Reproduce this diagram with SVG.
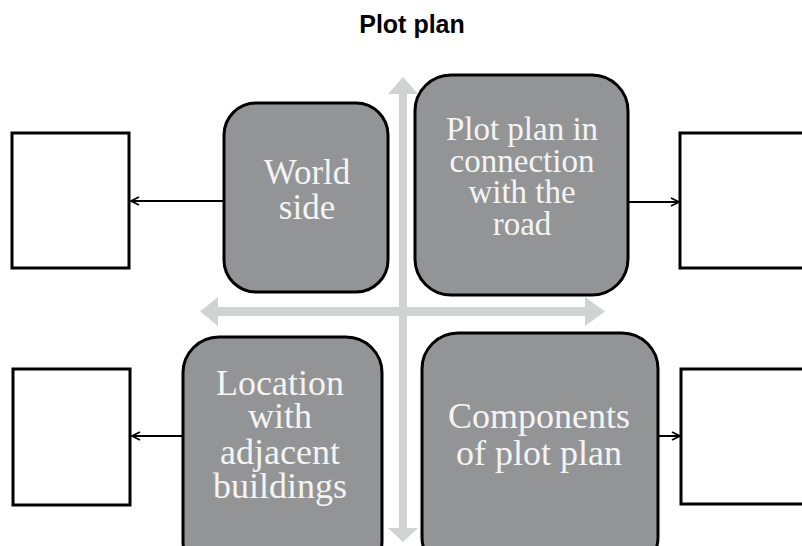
<svg xmlns="http://www.w3.org/2000/svg" width="802" height="546" viewBox="0 0 802 546">
<defs>
<style>
.title{font-family:"Liberation Sans",Arial,sans-serif;font-weight:bold;font-size:25px;fill:#000;text-anchor:middle}
.node{fill:#939496;stroke:#000;stroke-width:3}
.box{fill:#fff;stroke:#000;stroke-width:3}
.lbl{font-family:"Liberation Serif","Times New Roman",serif;fill:#f4f4f4;text-anchor:middle}
.axis{fill:#d1d2d4}
.conn{stroke:#000;stroke-width:2;fill:none}
</style>
<marker id="ah" viewBox="0 0 10 10" refX="9" refY="5" markerWidth="10" markerHeight="10" markerUnits="userSpaceOnUse" orient="auto">
<path d="M1,1 L9,5 L1,9" fill="none" stroke="#000" stroke-width="1.8"/>
</marker>
</defs>
<rect width="802" height="546" fill="#fff"/>
<text class="title" x="412" y="33">Plot plan</text>
<g id="axes">
<polygon class="axis" points="403,77 418,94 407,94 407,528 418,528 403,542 388,528 399,528 399,94 388,94"/>
<polygon class="axis" points="200,311.5 218,297 218,307 585,307 585,297 605,311.5 585,326 585,316 218,316 218,326"/>
</g>
<g id="connectors">
<line class="conn" x1="224" y1="201" x2="131" y2="201" marker-end="url(#ah)"/>
<line class="conn" x1="628" y1="202" x2="679" y2="202" marker-end="url(#ah)"/>
<line class="conn" x1="183" y1="436" x2="132" y2="436" marker-end="url(#ah)"/>
<line class="conn" x1="658" y1="436" x2="680" y2="436" marker-end="url(#ah)"/>
</g>
<g id="box-tl"><rect class="box" x="12" y="133" width="117" height="135"/></g>
<g id="box-tr"><rect class="box" x="680" y="133" width="130" height="135"/></g>
<g id="box-bl"><rect class="box" x="13" y="369" width="117" height="136"/></g>
<g id="box-br"><rect class="box" x="681" y="369" width="130" height="135"/></g>
<g id="node-world">
<rect class="node" x="224" y="103" width="164" height="189" rx="32"/>
<text class="lbl" font-size="35" x="307" y="184">World</text>
<text class="lbl" font-size="35" x="307" y="219">side</text>
</g>
<g id="node-road">
<rect class="node" x="415" y="75" width="213" height="220" rx="36"/>
<text class="lbl" font-size="33" x="522" y="140">Plot plan in</text>
<text class="lbl" font-size="33" x="522" y="172">connection</text>
<text class="lbl" font-size="33" x="522" y="203">with the</text>
<text class="lbl" font-size="33" x="522" y="235">road</text>
</g>
<g id="node-location">
<rect class="node" x="183" y="337" width="199" height="240" rx="36"/>
<text class="lbl" font-size="36" x="280" y="395">Location</text>
<text class="lbl" font-size="36" x="280" y="428">with</text>
<text class="lbl" font-size="36" x="280" y="464">adjacent</text>
<text class="lbl" font-size="36" x="280" y="498">buildings</text>
</g>
<g id="node-components">
<rect class="node" x="422" y="333" width="236" height="240" rx="36"/>
<text class="lbl" font-size="36" x="539" y="428">Components</text>
<text class="lbl" font-size="36" x="539" y="465">of plot plan</text>
</g>
</svg>
